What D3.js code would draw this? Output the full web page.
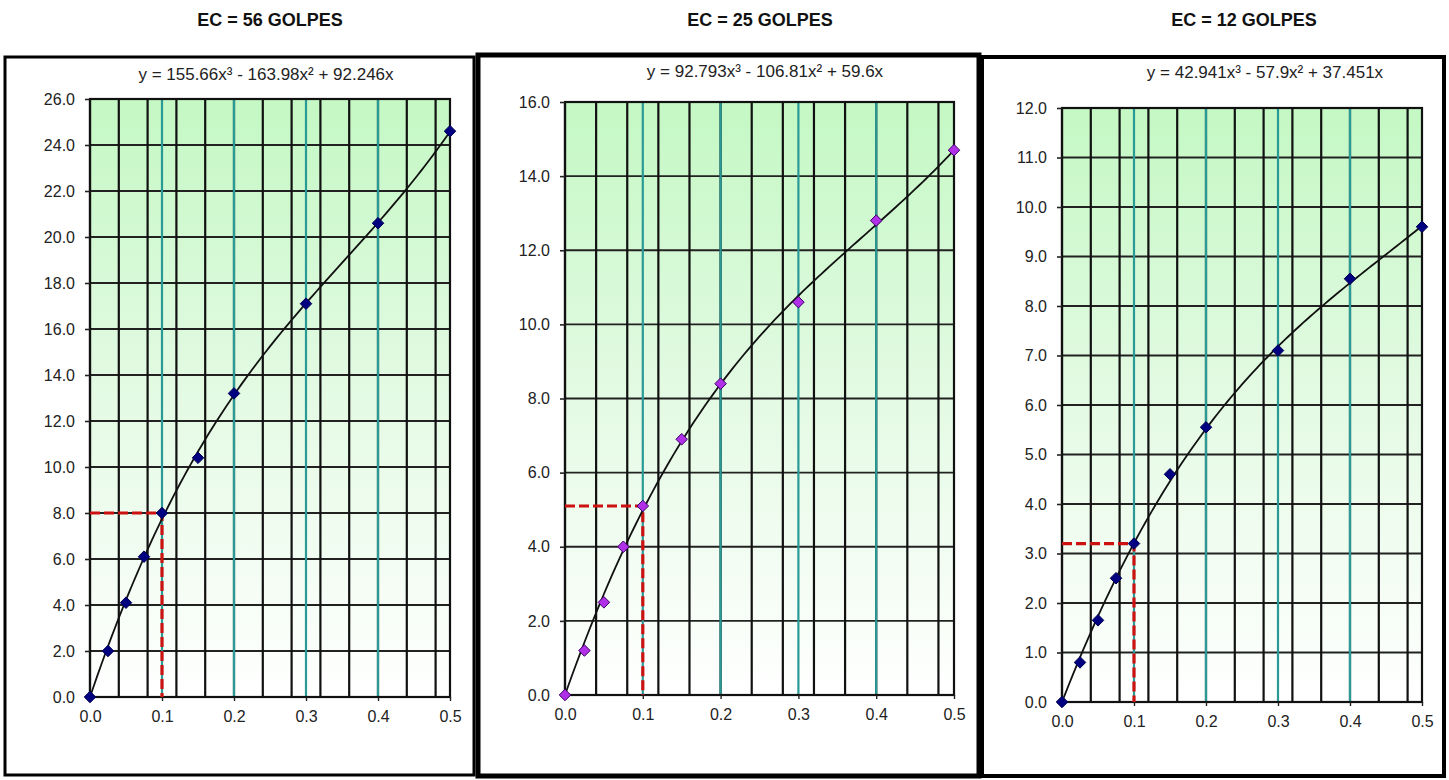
<!DOCTYPE html>
<html>
<head>
<meta charset="utf-8">
<script src="https://cdn.jsdelivr.net/npm/d3@7"></script>
<style>
  html, body { margin: 0; padding: 0; background: #fff; }
  svg { display: block; font-family: Arial, "Liberation Sans", sans-serif; }
</style>
</head>
<body>
<svg id="chart" width="1449" height="780"></svg>
<script>
// ---------- DATA ----------
const xValues = [0, 0.025, 0.05, 0.075, 0.1, 0.15, 0.2, 0.3, 0.4, 0.5];
const y56 = [0, 2.0, 4.1, 6.1, 8.0, 10.4, 13.2, 17.1, 20.6, 24.6];
const y25 = [0, 1.2, 2.5, 4.0, 5.1, 6.9, 8.4, 10.6, 12.8, 14.7];
const y12 = [0, 0.8, 1.65, 2.5, 3.2, 4.6, 5.55, 7.1, 8.55, 9.6];
const titles = ["EC = 56 GOLPES", "EC = 25 GOLPES", "EC = 12 GOLPES"];
const equations = [
  "y = 155.66x³ - 163.98x² + 92.246x",
  "y = 92.793x³ - 106.81x² + 59.6x",
  "y = 42.941x³ - 57.9x² + 37.451x"
];
// cubic trend-line coefficients [a3, a2, a1] as printed on the chart
const coef56 = [155.66, -163.98, 92.246];
const coef25 = [92.793, -106.81, 59.6];
const coef12 = [42.941, -57.9, 37.451];
const readX = 0.1;
const readY = [8.0, 5.1, 3.2];
const yMaxes = [26, 16, 12];
const yStepList = [2, 2, 1];
const xTicks = [0, 0.1, 0.2, 0.3, 0.4, 0.5];
const xMinorStep = 0.04;

// ---------- LAYOUT ----------
const panels = [
  { frame: [5, 57, 469, 718], frameW: 3, plot: { l: 90, r: 450, t: 99, b: 697 },
    titleX: 270, eqX: 266, eqY: 80, marker: "#000080", markerStroke: "#000050",
    ys: y56, coef: coef56 },
  { frame: [478, 55, 501, 721], frameW: 5, plot: { l: 565, r: 954, t: 102, b: 695 },
    titleX: 760, eqX: 765, eqY: 77, marker: "#b030e8", markerStroke: "#3a0066",
    ys: y25, coef: coef25 },
  { frame: [982, 57, 462, 719], frameW: 4, plot: { l: 1062, r: 1422, t: 108, b: 702 },
    titleX: 1244, eqX: 1265, eqY: 78, marker: "#000080", markerStroke: "#000050",
    ys: y12, coef: coef12 }
];

const FONT = "Arial, 'Liberation Sans', sans-serif";
const svg = d3.select("#chart");
svg.append("rect").attr("width", 1449).attr("height", 780).attr("fill", "#fff");

const defs = svg.append("defs");
const grad = defs.append("linearGradient").attr("id", "bgGrad")
  .attr("x1", 0).attr("y1", 0).attr("x2", 0).attr("y2", 1);
grad.append("stop").attr("offset", "0%").attr("stop-color", "#c4f8c4");
grad.append("stop").attr("offset", "50%").attr("stop-color", "#e4fae4");
grad.append("stop").attr("offset", "100%").attr("stop-color", "#ffffff");

panels.forEach((p, i) => {
  const g = svg.append("g");
  // title
  g.append("text").attr("x", p.titleX).attr("y", 26)
    .attr("text-anchor", "middle").attr("font-weight", "bold")
    .attr("font-size", 18).attr("fill", "#111").text(titles[i]);
  // frame
  const [fx, fy, fw, fh] = p.frame;
  g.append("rect").attr("x", fx).attr("y", fy).attr("width", fw).attr("height", fh)
    .attr("fill", "#fff").attr("stroke", "#000").attr("stroke-width", p.frameW);
  // equation
  g.append("text").attr("x", p.eqX).attr("y", p.eqY)
    .attr("text-anchor", "middle").attr("font-size", 17).attr("fill", "#222")
    .text(equations[i]);

  const x = d3.scaleLinear().domain([0, 0.5]).range([p.plot.l, p.plot.r]);
  const y = d3.scaleLinear().domain([0, yMaxes[i]]).range([p.plot.b, p.plot.t]);

  // background
  g.append("rect").attr("x", x(0)).attr("y", y(yMaxes[i]))
    .attr("width", x(0.5) - x(0)).attr("height", y(0) - y(yMaxes[i]))
    .attr("fill", "url(#bgGrad)");

  // horizontal gridlines
  const yTicks = d3.range(0, yMaxes[i] + 1e-9, yStepList[i]);
  g.append("g").selectAll("line").data(yTicks).join("line")
    .attr("x1", x(0)).attr("x2", x(0.5))
    .attr("y1", d => y(d)).attr("y2", d => y(d))
    .attr("stroke", "#222").attr("stroke-width", 1.8);

  // black vertical minor gridlines
  const minor = d3.range(0, 0.5 - 1e-9, xMinorStep);
  g.append("g").selectAll("line").data(minor).join("line")
    .attr("x1", d => x(d)).attr("x2", d => x(d))
    .attr("y1", y(0)).attr("y2", y(yMaxes[i]))
    .attr("stroke", "#111").attr("stroke-width", 2.2);

  // teal vertical major gridlines
  g.append("g").selectAll("line").data(xTicks.filter(d => d > 0 && d < 0.5)).join("line")
    .attr("x1", d => x(d)).attr("x2", d => x(d))
    .attr("y1", y(0)).attr("y2", y(yMaxes[i]))
    .attr("stroke", "#2a9a96").attr("stroke-width", 2.2);

  // plot border
  g.append("rect").attr("x", x(0)).attr("y", y(yMaxes[i]))
    .attr("width", x(0.5) - x(0)).attr("height", y(0) - y(yMaxes[i]))
    .attr("fill", "none").attr("stroke", "#111").attr("stroke-width", 2.2);

  // y axis labels
  const yAxis = d3.axisLeft(y).tickValues(yTicks).tickFormat(d3.format(".1f"))
    .tickSize(5).tickPadding(10);
  const ya = g.append("g").attr("transform", `translate(${x(0)},0)`).call(yAxis);
  ya.select(".domain").remove();
  ya.selectAll("line").attr("stroke", "#222").attr("stroke-width", 1.6);
  ya.selectAll("text").attr("font-size", 16).attr("fill", "#222").attr("font-family", FONT);

  // x axis labels
  const xAxis = d3.axisBottom(x).tickValues(xTicks).tickFormat(d3.format(".1f"))
    .tickSize(4).tickPadding(10);
  const xa = g.append("g").attr("transform", `translate(0,${y(0)})`).call(xAxis);
  xa.select(".domain").remove();
  xa.selectAll("line").attr("stroke", "#222").attr("stroke-width", 1.4);
  xa.selectAll("text").attr("font-size", 16).attr("fill", "#222").attr("font-family", FONT);

  // red dashed reading lines
  const ry = readY[i];
  g.append("path")
    .attr("d", d3.line()([[x(0), y(ry)], [x(readX), y(ry)], [x(readX), y(0)]]))
    .attr("fill", "none").attr("stroke", "#cc1111").attr("stroke-width", 3.2)
    .attr("stroke-dasharray", "10,4");

  // cubic trend line from printed coefficients
  const [a3, a2, a1] = p.coef;
  const curveX = d3.range(0, 0.5001, 0.005);
  g.append("path")
    .attr("d", d3.line().x(d => x(d)).y(d => y(a3 * d * d * d + a2 * d * d + a1 * d))(curveX))
    .attr("fill", "none").attr("stroke", "#111").attr("stroke-width", 1.8);

  // markers
  const pts = xValues.map((xv, k) => [xv, p.ys[k]]);
  g.append("g").selectAll("path").data(pts).join("path")
    .attr("transform", d => `translate(${x(d[0])},${y(d[1])})`)
    .attr("d", d3.symbol().type(d3.symbolDiamond2).size(85))
    .attr("fill", p.marker).attr("stroke", p.markerStroke).attr("stroke-width", 1);
});
</script>
</body>
</html>
